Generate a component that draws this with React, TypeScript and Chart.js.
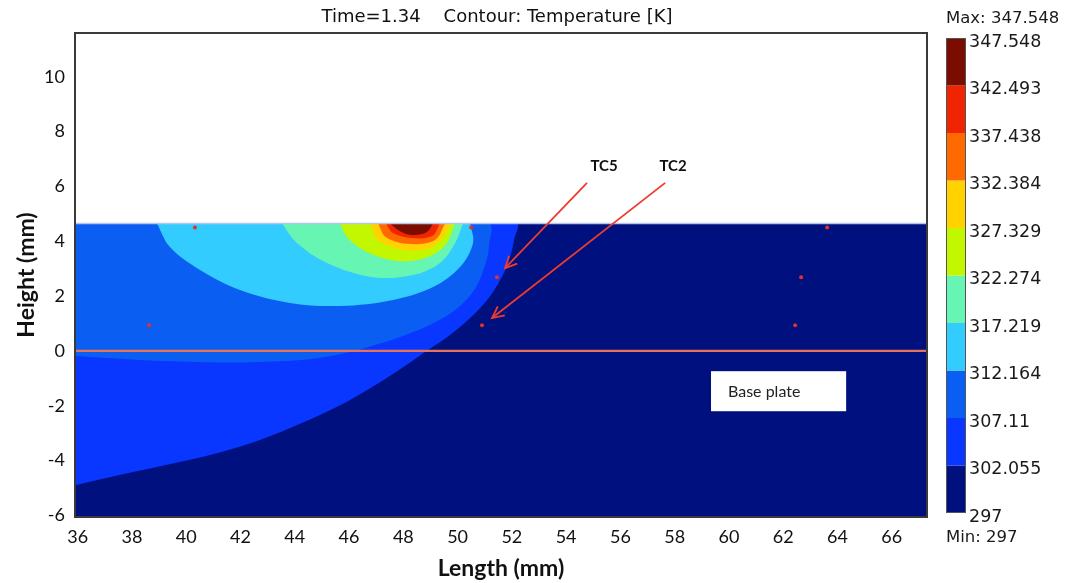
import { useEffect, useRef } from 'react';
import { Chart, registerables } from 'chart.js';

Chart.register(...registerables);

// ---- axes ----
const X_MIN = 35.9;
const X_MAX = 67.3;
const Y_MIN = -6.06;
const Y_MAX = 11.6;
const X_TICKS = [36, 38, 40, 42, 44, 46, 48, 50, 52, 54, 56, 58, 60, 62, 64, 66];
const Y_TICKS = [-6, -4, -2, 0, 2, 4, 6, 8, 10];
const PLATE_TOP = 4.65;

// ---- colour scale ----
const LEVELS = [297, 302.055, 307.11, 312.164, 317.219, 322.274, 327.329, 332.384, 337.438, 342.493, 347.548];
const LEVEL_LABELS = ['297', '302.055', '307.11', '312.164', '317.219', '322.274', '327.329', '332.384', '337.438', '342.493', '347.548'];
const LEVEL_COLORS = ['#00117f', '#0a37ff', '#0a5ff2', '#33ccff', '#66f5b2', '#c2f700', '#ffd200', '#ff6a00', '#ee2500', '#7a0c00'];

// ---- contour regions (x mm, y mm): area where T >= level ----
const REGION_302: [number, number][] = [
  [35.9, -4.9], [38.04, -4.42], [41.13, -3.73], [42.79, -3.22], [44.26, -2.63], [45.67, -1.98], [46.96, -1.25],
  [48.06, -0.55], [48.91, 0.03], [49.72, 0.58], [50.46, 1.2], [51.09, 1.86], [51.57, 2.59], [51.9, 3.32],
  [52.08, 4.05], [52.15, 4.65], [35.9, 4.65],
];
const REGION_307: [number, number][] = [
  [35.9, -0.19], [38.3, -0.33], [40.73, -0.41], [42.35, -0.41], [44.53, -0.3], [46.04, -0.04], [47.07, 0.25],
  [47.88, 0.51], [48.95, 0.94], [49.91, 1.49], [50.61, 2.22], [51.01, 3.13], [51.16, 3.86], [51.12, 4.65], [35.9, 4.65],
];
const REGION_312: [number, number][] = [
  [38.92, 4.65], [39.4, 3.79], [40.51, 2.95], [41.98, 2.22], [43.82, 1.75], [45.67, 1.64], [47.62, 1.86],
  [49.1, 2.33], [50.09, 3.06], [50.57, 3.94], [50.46, 4.65],
];
const REGION_317: [number, number][] = [
  [43.53, 4.65], [44.08, 3.94], [45.19, 3.21], [46.88, 2.69], [48.36, 2.77], [49.35, 3.21], [49.91, 3.94], [50.2, 4.65],
];
const REGION_322: [number, number][] = [
  [45.67, 4.65], [45.93, 4.15], [46.66, 3.61], [47.77, 3.28], [48.8, 3.39], [49.54, 3.86], [49.91, 4.65],
];
const REGION_327: [number, number][] = [
  [46.77, 4.65], [47.07, 4.05], [48.06, 3.68], [49.06, 3.79], [49.65, 4.41], [49.72, 4.65],
];
const REGION_332: [number, number][] = [
  [47.07, 4.65], [47.36, 4.15], [48.25, 3.9], [49.17, 4.05], [49.54, 4.65],
];
const REGION_337: [number, number][] = [
  [47.36, 4.65], [47.62, 4.3], [48.32, 4.12], [49.06, 4.19], [49.35, 4.65],
];
const REGION_342: [number, number][] = [
  [47.51, 4.65], [47.88, 4.37], [48.36, 4.23], [48.87, 4.34], [49.1, 4.65],
];
const REGIONS = [REGION_302, REGION_307, REGION_312, REGION_317, REGION_322, REGION_327, REGION_332, REGION_337, REGION_342];

// ---- thermocouples ----
const TC_X = [40.32, 50.5, 63.62, 51.45, 62.66, 38.63, 50.9, 62.44];
const TC_Y = [4.5, 4.5, 4.5, 2.69, 2.69, 0.94, 0.94, 0.94];

// ---- arrows and labels ----
const ARROW_TC5: [number, number][] = [[54.77, 6.13], [51.75, 3.02]];
const ARROW_TC2: [number, number][] = [[57.65, 6.13], [51.27, 1.2]];
const ARROWS = [ARROW_TC5, ARROW_TC2];
const ARROW_LABELS = ['TC5', 'TC2'];
const ARROW_LABEL_X = [55.4, 57.94];
const ARROW_LABEL_Y = [6.73, 6.73];

const BASE_BOX_X = [59.34, 64.32];
const BASE_BOX_Y = [-0.74, -2.2];
const BASE_TEXT = 'Base plate';

const TITLE = 'Time=1.34    Contour: Temperature [K]';
const MAX_TEXT = 'Max: 347.548';
const MIN_TEXT = 'Min: 297';

const pts = (arr: [number, number][]) => arr.map(([x, y]) => ({ x, y }));

const areaSet = (arr: [number, number][], color: string, tension: number) => ({
  data: pts(arr),
  showLine: true,
  fill: 'shape',
  backgroundColor: color,
  borderColor: color,
  borderWidth: 0,
  pointRadius: 0,
  tension,
});

const overlay = {
  id: 'overlay',
  afterDatasetsDraw(chart: any) {
    const { ctx, chartArea: a, scales } = chart;
    const xs = scales.x;
    const ys = scales.y;
    ctx.save();
    // arrowheads
    ctx.strokeStyle = '#ef3b2c';
    ctx.lineWidth = 1.8;
    ARROWS.forEach((arr) => {
      const sx = xs.getPixelForValue(arr[0][0]);
      const sy = ys.getPixelForValue(arr[0][1]);
      const ex = xs.getPixelForValue(arr[1][0]);
      const ey = ys.getPixelForValue(arr[1][1]);
      const ang = Math.atan2(ey - sy, ex - sx);
      const L = 13;
      const w = 0.45;
      ctx.beginPath();
      ctx.moveTo(ex - L * Math.cos(ang - w), ey - L * Math.sin(ang - w));
      ctx.lineTo(ex, ey);
      ctx.lineTo(ex - L * Math.cos(ang + w), ey - L * Math.sin(ang + w));
      ctx.stroke();
    });
    // labels
    ctx.fillStyle = '#111';
    ctx.font = 'bold 15px Lato';
    ctx.textAlign = 'center';
    ctx.textBaseline = 'middle';
    ARROW_LABELS.forEach((t, i) => {
      ctx.fillText(t, xs.getPixelForValue(ARROW_LABEL_X[i]), ys.getPixelForValue(ARROW_LABEL_Y[i]));
    });
    // base plate box
    const bx1 = xs.getPixelForValue(BASE_BOX_X[0]);
    const bx2 = xs.getPixelForValue(BASE_BOX_X[1]);
    const by1 = ys.getPixelForValue(BASE_BOX_Y[0]);
    const by2 = ys.getPixelForValue(BASE_BOX_Y[1]);
    ctx.fillStyle = '#ffffff';
    ctx.fillRect(bx1, by1, bx2 - bx1, by2 - by1);
    ctx.fillStyle = '#222';
    ctx.font = '16px Lato';
    ctx.textAlign = 'left';
    ctx.fillText(BASE_TEXT, bx1 + 17, (by1 + by2) / 2 + 1);
    // frame
    ctx.strokeStyle = '#3a3a3a';
    ctx.lineWidth = 2;
    ctx.strokeRect(a.left, a.top, a.right - a.left, a.bottom - a.top);
    ctx.restore();
  },
  afterDraw(chart: any) {
    const { ctx, chartArea: a } = chart;
    ctx.save();
    // title
    ctx.fillStyle = '#111';
    ctx.font = '18px "DejaVu Sans"';
    ctx.textAlign = 'center';
    ctx.textBaseline = 'middle';
    ctx.fillText(TITLE, (a.left + a.right) / 2 - 4, 17);
    // colour bar
    const L = 946, R = 966, T = 38, B = 513;
    const vmin = LEVELS[0];
    const vmax = LEVELS[LEVELS.length - 1];
    const py = (v: number) => B - ((v - vmin) / (vmax - vmin)) * (B - T);
    for (let i = 0; i < LEVEL_COLORS.length; i++) {
      const y1 = py(LEVELS[i + 1]);
      const y0 = py(LEVELS[i]);
      ctx.fillStyle = LEVEL_COLORS[i];
      ctx.fillRect(L, y1, R - L, y0 - y1);
    }
    ctx.strokeStyle = '#555';
    ctx.lineWidth = 1;
    ctx.strokeRect(L + 0.5, T + 0.5, R - L - 1, B - T - 1);
    ctx.fillStyle = '#1a1a1a';
    ctx.font = '17.5px "DejaVu Sans"';
    ctx.textAlign = 'left';
    LEVEL_LABELS.forEach((t, i) => {
      ctx.fillText(t, R + 3, py(LEVELS[i]) + 4);
    });
    ctx.font = '16.5px "DejaVu Sans"';
    ctx.fillText(MAX_TEXT, L, 19);
    ctx.fillText(MIN_TEXT, L, 538);
    ctx.restore();
  },
};

export default function App() {
  const ref = useRef<HTMLCanvasElement>(null);
  useEffect(() => {
    const datasets: any[] = [];
    datasets.push(areaSet([[X_MIN, Y_MIN], [X_MAX, Y_MIN], [X_MAX, PLATE_TOP], [X_MIN, PLATE_TOP]], LEVEL_COLORS[0], 0));
    REGIONS.forEach((r, i) => datasets.push(areaSet(r, LEVEL_COLORS[i + 1], 0.35)));
    datasets.push(areaSet([[X_MIN, PLATE_TOP], [X_MAX, PLATE_TOP], [X_MAX, Y_MAX], [X_MIN, Y_MAX]], '#ffffff', 0));
    datasets.push({ data: pts([[X_MIN, PLATE_TOP], [X_MAX, PLATE_TOP]]), borderColor: '#b9c3ea', borderWidth: 1.5, pointRadius: 0, fill: false });
    datasets.push({ data: pts([[X_MIN, 0], [X_MAX, 0]]), borderColor: '#e5735a', borderWidth: 2.2, pointRadius: 0, fill: false });
    ARROWS.forEach((a) => datasets.push({ data: pts(a), borderColor: '#ef3b2c', borderWidth: 1.8, pointRadius: 0, fill: false }));
    datasets.push({
      data: TC_X.map((x, i) => ({ x, y: TC_Y[i] })),
      showLine: false,
      pointRadius: 2,
      pointBackgroundColor: '#e3302a',
      pointBorderWidth: 0,
      fill: false,
    });
    const N = datasets.length;
    datasets.forEach((d, i) => (d.order = N - i));

    const chart = new Chart(ref.current as HTMLCanvasElement, {
      type: 'line',
      data: { datasets },
      options: {
        responsive: false,
        animation: false,
        events: [],
        layout: { padding: { left: 0, right: 143, top: 33, bottom: 0 } },
        plugins: { legend: { display: false }, tooltip: { enabled: false }, title: { display: false } },
        scales: {
          x: {
            type: 'linear',
            min: X_MIN,
            max: X_MAX,
            afterBuildTicks: (s: any) => { s.ticks = X_TICKS.map((v) => ({ value: v })); },
            afterFit: (s: any) => { s.height = 66; },
            grid: { display: false, drawTicks: false },
            border: { display: false },
            ticks: { font: { family: 'Lato', size: 18 }, color: '#111', padding: 9, maxRotation: 0, autoSkip: false },
            title: { display: true, text: 'Length (mm)', font: { family: 'Lato', size: 23, weight: 'bold' }, color: '#111', padding: { top: 0, bottom: 1 } },
          },
          y: {
            type: 'linear',
            min: Y_MIN,
            max: Y_MAX,
            afterBuildTicks: (s: any) => { s.ticks = Y_TICKS.map((v) => ({ value: v })); },
            afterFit: (s: any) => { s.width = 75; },
            grid: { display: false, drawTicks: false },
            border: { display: false },
            ticks: { font: { family: 'Lato', size: 18 }, color: '#111', padding: 10, autoSkip: false },
            title: { display: true, text: 'Height (mm)', font: { family: 'Lato', size: 23, weight: 'bold' }, color: '#111', padding: { top: 13, bottom: 0 } },
          },
        },
      },
      plugins: [overlay],
    } as any);
    return () => chart.destroy();
  }, []);
  return (
    <div style={{ position: 'fixed', left: 0, top: 0, width: 1070, height: 583, background: '#fff' }}>
      <canvas ref={ref} width={1070} height={583} style={{ width: 1070, height: 583, display: 'block' }} />
    </div>
  );
}
